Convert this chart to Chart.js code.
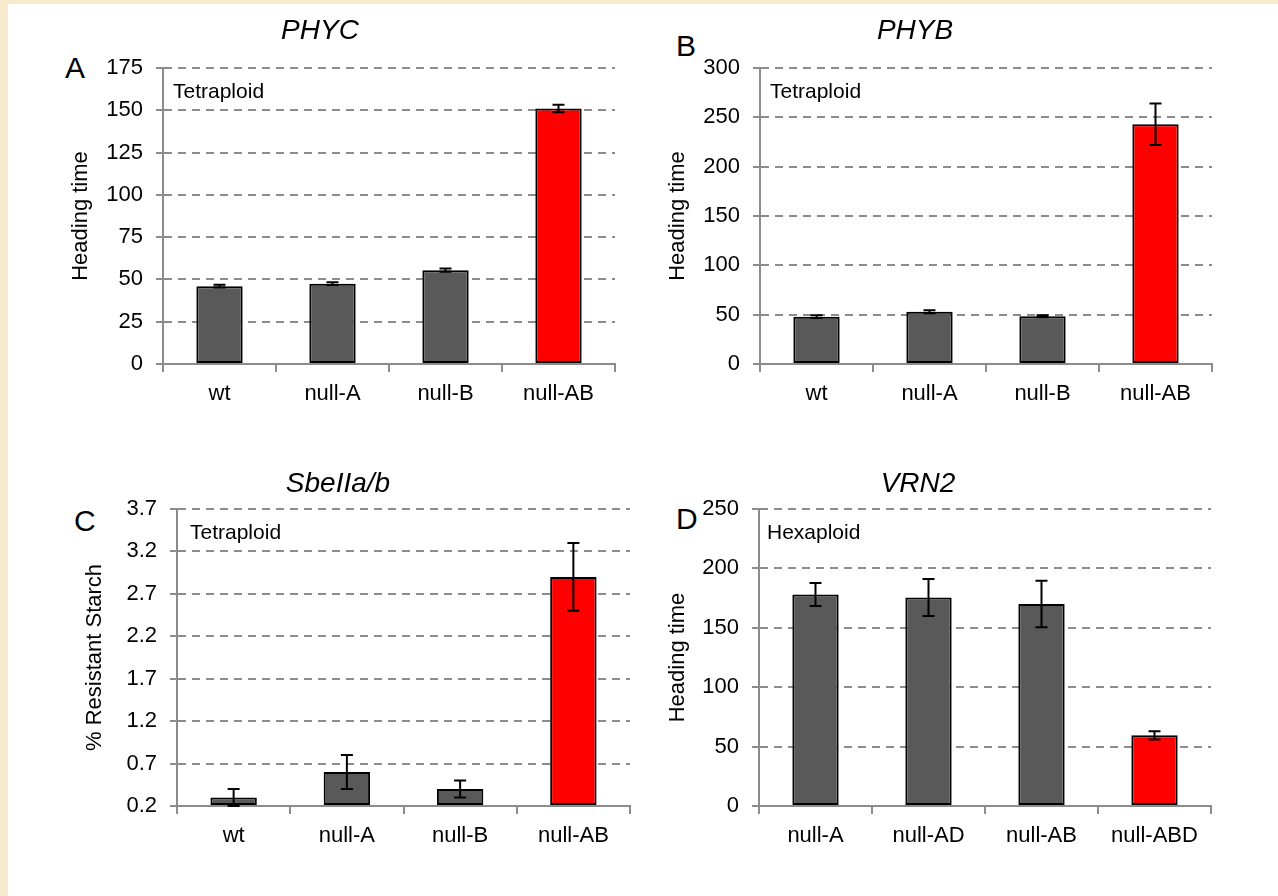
<!DOCTYPE html>
<html>
<head>
<meta charset="utf-8">
<script src="https://cdn.jsdelivr.net/npm/chart.js@4.4.1/dist/chart.umd.min.js"></script>
<style>
    html, body { margin: 0; padding: 0; }
    body {
        width: 1278px; height: 896px; position: relative; overflow: hidden;
        background: #f7eacd;
        font-family: "Liberation Sans", Arial, sans-serif;
    }
    #sheet { position: absolute; left: 8px; top: 4px; right: 0; bottom: 0; background: #fff; }
    canvas { position: absolute; }
    .letter { position: absolute; font-size: 30px; line-height: 30px; color: #000; }
</style>
</head>
<body>
<div id="sheet"></div>
<div class="letter" style="left:65px;top:53px">A</div>
<div class="letter" style="left:676px;top:31px">B</div>
<div class="letter" style="left:74px;top:506px">C</div>
<div class="letter" style="left:676px;top:504px">D</div>
<canvas id="chartA"></canvas>
<canvas id="chartB"></canvas>
<canvas id="chartC"></canvas>
<canvas id="chartD"></canvas>

<script>
// ---- data ----
const tetraCategories = ['wt', 'null-A', 'null-B', 'null-AB'];
const hexaCategories = ['null-A', 'null-AD', 'null-AB', 'null-ABD'];

const phycValues = [46, 47.5, 55.5, 151];
const phycErrors = [0.8, 0.8, 1, 2.2];
const phycTicks = [0, 25, 50, 75, 100, 125, 150, 175];

const phybValues = [48, 53, 48.5, 243];
const phybErrors = [1.5, 1.5, 1, 21];
const phybTicks = [0, 50, 100, 150, 200, 250, 300];

const sbeValues = [0.3, 0.6, 0.4, 2.9];
const sbeErrors = [0.1, 0.2, 0.1, 0.4];
const sbeTicks = [0.2, 0.7, 1.2, 1.7, 2.2, 2.7, 3.2, 3.7];

const vrn2Values = [178, 175.5, 170, 59.5];
const vrn2Errors = [9.7, 15.5, 19.5, 3.5];
const vrn2Ticks = [0, 50, 100, 150, 200, 250];

// ---- style ----
const GREY_BAR = '#595959';
const RED_BAR = '#ff0000';
const AXIS_GREY = '#8c8c8c';
const FONT = '"Liberation Sans", Arial, sans-serif';

// error bars drawn from each bar's own value on the y scale
const errorBars = {
    id: 'errorBars',
    afterDatasetsDraw(chart) {
        const ds = chart.data.datasets[0];
        const meta = chart.getDatasetMeta(0);
        const y = chart.scales.y;
        const ctx = chart.ctx;
        ctx.save();
        ctx.strokeStyle = '#000';
        ctx.lineWidth = 2;
        meta.data.forEach((bar, i) => {
            const top = y.getPixelForValue(ds.data[i] + ds.errors[i]);
            const bot = y.getPixelForValue(ds.data[i] - ds.errors[i]);
            ctx.beginPath();
            ctx.moveTo(bar.x, top); ctx.lineTo(bar.x, bot);
            ctx.moveTo(bar.x - 6, top); ctx.lineTo(bar.x + 6, top);
            ctx.moveTo(bar.x - 6, bot); ctx.lineTo(bar.x + 6, bot);
            ctx.stroke();
        });
        ctx.restore();
    }
};

// "Tetraploid" / "Hexaploid" note in the top-left corner of the plot
const cornerNote = {
    id: 'cornerNote',
    afterDraw(chart, args, opts) {
        const ctx = chart.ctx;
        ctx.save();
        ctx.font = '21px ' + FONT;
        ctx.fillStyle = '#000';
        ctx.textBaseline = 'middle';
        ctx.fillText(opts.text, chart.chartArea.left + opts.dx, chart.chartArea.top + 24);
        ctx.restore();
    }
};

// layout of each panel on the page: canvas left/top, plot box, title centre
function makePanel(id, p) {
    const canvas = document.getElementById(id);
    const L = 2 * p.titleX - p.right;
    const W = p.right - L + 20;
    const H = 448;
    canvas.width = W;
    canvas.height = H;
    canvas.style.left = L + 'px';
    canvas.style.top = p.top0 + 'px';

    const titleLine = 28 * 1.2;
    const titlePadTop = p.titleY - p.top0 - titleLine / 2;
    const titlePadBottom = (p.plotTop - p.top0) - titlePadTop - titleLine;
    const xHeight = 50;
    const padBottom = H - (p.plotBottom - p.top0) - xHeight;

    new Chart(canvas, {
        type: 'bar',
        data: {
            labels: p.labels,
            datasets: [{
                data: p.values,
                errors: p.errors,
                base: p.ticks[0],
                backgroundColor: p.values.map((v, i) => i === p.values.length - 1 ? RED_BAR : GREY_BAR),
                borderColor: '#000',
                borderWidth: 2,
                borderSkipped: false,
                categoryPercentage: 0.41,
                barPercentage: 1
            }]
        },
        options: {
            responsive: false,
            animation: false,
            devicePixelRatio: 1,
            layout: { padding: { left: 0, right: 20, top: 0, bottom: padBottom } },
            plugins: {
                legend: { display: false },
                tooltip: { enabled: false },
                title: {
                    display: true,
                    text: p.title,
                    color: '#000',
                    font: { family: FONT, size: 28, style: 'italic', weight: 'normal', lineHeight: 1.2 },
                    padding: { top: titlePadTop, bottom: titlePadBottom }
                },
                cornerNote: { text: p.note, dx: p.noteDx }
            },
            scales: {
                x: {
                    grid: {
                        display: true, drawOnChartArea: false, drawTicks: true,
                        offset: true, tickLength: 8, color: AXIS_GREY, lineWidth: 2
                    },
                    border: { display: true, color: AXIS_GREY, width: 2 },
                    ticks: { color: '#000', font: { family: FONT, size: 22 }, padding: 9 },
                    afterFit: s => { s.height = xHeight; }
                },
                y: {
                    min: p.ticks[0],
                    max: p.ticks[p.ticks.length - 1],
                    afterBuildTicks: s => { s.ticks = p.ticks.map(v => ({ value: v })); },
                    grid: { color: AXIS_GREY, lineWidth: 2, tickLength: 7, tickBorderDash: [] },
                    border: { display: true, color: AXIS_GREY, width: 2, dash: [8, 6] },
                    ticks: { color: '#000', font: { family: FONT, size: 22 }, padding: 13 },
                    title: {
                        display: true,
                        text: p.yTitle,
                        color: '#000',
                        font: { family: FONT, size: 22, lineHeight: 1.2 },
                        padding: { top: p.yTitleX - L - 13.2, bottom: 0 }
                    },
                    afterFit: s => { s.width = p.left - L; }
                }
            }
        },
        plugins: [errorBars, cornerNote]
    });
}

makePanel('chartA', {
    labels: tetraCategories, values: phycValues, errors: phycErrors, ticks: phycTicks,
    title: 'PHYC', yTitle: 'Heading time', note: 'Tetraploid', noteDx: 10,
    top0: 0, left: 163, right: 615, plotTop: 68, plotBottom: 364,
    titleX: 320, titleY: 31, yTitleX: 81
});
makePanel('chartB', {
    labels: tetraCategories, values: phybValues, errors: phybErrors, ticks: phybTicks,
    title: 'PHYB', yTitle: 'Heading time', note: 'Tetraploid', noteDx: 10,
    top0: 0, left: 760, right: 1212, plotTop: 68, plotBottom: 364,
    titleX: 915, titleY: 31, yTitleX: 678
});
makePanel('chartC', {
    labels: tetraCategories, values: sbeValues, errors: sbeErrors, ticks: sbeTicks,
    title: 'SbeIIa/b', yTitle: '% Resistant Starch', note: 'Tetraploid', noteDx: 13,
    top0: 448, left: 177, right: 630, plotTop: 509, plotBottom: 806,
    titleX: 338, titleY: 484, yTitleX: 95
});
makePanel('chartD', {
    labels: hexaCategories, values: vrn2Values, errors: vrn2Errors, ticks: vrn2Ticks,
    title: 'VRN2', yTitle: 'Heading time', note: 'Hexaploid', noteDx: 8,
    top0: 448, left: 759, right: 1211, plotTop: 509, plotBottom: 806,
    titleX: 918, titleY: 484, yTitleX: 678
});
</script>
</body>
</html>
